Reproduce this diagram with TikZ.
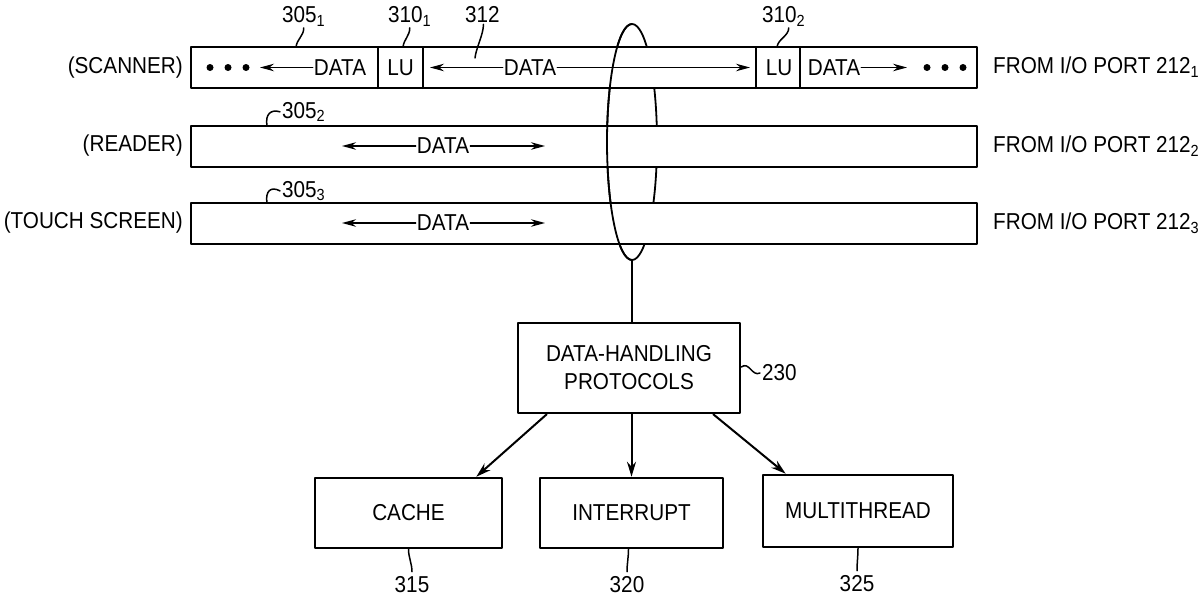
\documentclass[tikz,border=0pt]{standalone}
\usepackage{fontspec}
\setmainfont{Liberation Sans}[FakeStretch=0.9]
\usetikzlibrary{arrows.meta,calc}
\tikzset{
  bar/.style={line width=2pt, fill=white},
  box/.style={draw, line width=2.5pt, align=center, inner sep=2pt},
  arr/.style={line width=1.3pt, -{Stealth[length=14pt,width=7.5pt]}},
  flow/.style={line width=2pt, -{Stealth[length=15pt,width=9pt]}},
  lead/.style={line width=1.5pt},
  lbl/.style={inner sep=0pt}
}
\begin{document}
\begin{tikzpicture}[x=1pt,y=-1pt,line join=round,line cap=round,
  every node/.style={font=\fontsize{23}{28}\selectfont}]
	\useasboundingbox (0,0) rectangle (1199,597);
	% loop round the three ports
	\coordinate (loopc) at (632,142);
	\coordinate (loopbot) at (632,260);
	\draw[line width=1.8pt] (loopc) ellipse [x radius=25, y radius=118];
	% port bars
	\foreach \y in {47,126,203}
	\draw[bar] (191,\y) rectangle (977,\y+41);
	\foreach \x in {378,423,756,800}
	\draw[bar] (\x,47) -- (\x,88);
	\begin{scope}
		\clip (590,0) rectangle (632,300);
		\draw[line width=1.8pt] (loopc) ellipse [x radius=25, y radius=118];
	\end{scope}
	% row labels
	\foreach \y/\n/\t/\s in {67.5/scan/{(SCANNER)}/1,146/read/{(READER)}/2,223/touch/{(TOUCH SCREEN)}/3}{
		\node[anchor=east,inner sep=1pt] (\n-lbl) at (184,\y) {\t};
		\node[anchor=west,inner sep=1pt] (\n-port) at (992,\y) {FROM I/O PORT 212\textsubscript{\s}};
	}
	% scanner stream
	\foreach \x in {210,228,246,927,945,963}
	\fill (\x,67.5) circle[radius=3.5];
	\node[inner sep=1pt] (sd1) at (340,67.5) {DATA};
	\node[inner sep=1pt] (lu1) at (400.5,67.5) {LU};
	\node[inner sep=1pt] (sd2) at (530,67.5) {DATA};
	\node[inner sep=1pt] (lu2) at (779,67.5) {LU};
	\node[inner sep=1pt] (sd3) at (834,67.5) {DATA};
	\draw[arr] (sd1.west) -- (260,67.5);
	\draw[arr] (sd2.west) -- (430,67.5);
	\draw[arr] (sd2.east) -- (750,67.5);
	\draw[arr] (sd3.east) -- (907,67.5);
	% reader and touch screen streams
	\foreach \y/\n in {146/rd,223/td}{
		\node[inner sep=1pt] (\n) at (443,\y) {DATA};
		\draw[arr] (\n.west) -- (342,\y);
		\draw[arr] (\n.east) -- (545,\y);
	}
	% reference numerals
	\node[lbl,anchor=base west] (n3051) at (282,23) {305\textsubscript{1}};
	\node[lbl,anchor=base west] (n3101) at (388,23) {310\textsubscript{1}};
	\node[lbl,anchor=base west] (n312) at (465,23) {312};
	\node[lbl,anchor=base west] (n3102) at (762,23) {310\textsubscript{2}};
	\node[lbl,anchor=base west] (n3052) at (282,118) {305\textsubscript{2}};
	\node[lbl,anchor=base west] (n3053) at (282,197) {305\textsubscript{3}};
	\draw[lead] ([yshift=-1pt]n3051.south) .. controls +(0,8) and +(1,-8) .. (296,47);
	\draw[lead] ([yshift=-1pt]n3101.south) .. controls +(0,8) and +(1,-8) .. (403,47);
	\draw[lead] ([xshift=1pt,yshift=-1pt]n312.south) .. controls +(0,10) and +(1,-10) .. (475,58);
	\draw[lead] ([xshift=5pt,yshift=-1pt]n3102.south) .. controls +(0,8) and +(1,-8) .. (777,47);
	\draw[lead] (267,126) .. controls (265,114) and (271,109) .. ([xshift=-2pt]n3052.west);
	\draw[lead] (267,203) .. controls (265,191) and (271,186) .. ([xshift=-2pt]n3053.west);
	% protocol boxes
	\node[box,minimum width=222,minimum height=90] (dhp) at (629,368) {DATA-HANDLING\\PROTOCOLS};
	\node[box,minimum width=187,minimum height=70] (cache) at (408.5,513) {CACHE};
	\node[box,minimum width=183,minimum height=70] (intr) at (631.5,513) {INTERRUPT};
	\node[box,minimum width=190,minimum height=72] (mthr) at (858,511) {MULTITHREAD};
	\draw[line width=1.8pt] (loopbot) -- (dhp.north -| loopbot);
	\draw[flow] ([xshift=30pt]dhp.south west) -- ([xshift=-27pt]cache.north east);
	\draw[flow] (dhp.south -| intr.north) -- (intr.north);
	\draw[flow] ([xshift=-28pt]dhp.south east) -- ([xshift=24pt]mthr.north west);
	\node[lbl,anchor=west] (n230) at (762,373) {230};
	\node[lbl,anchor=base] (n315) at (412,592) {315};
	\node[lbl,anchor=base] (n320) at (627,592) {320};
	\node[lbl,anchor=base] (n325) at (857,591) {325};
	\draw[lead] ([yshift=1pt]dhp.east) .. controls +(8,-6) and +(-8,4) .. ([xshift=-2pt]n230.west);
	\draw[lead] (cache.south) .. controls +(0,8) and +(0,-8) .. ([yshift=4pt]n315.north);
	\draw[lead] ([xshift=-3pt]intr.south) .. controls +(0,8) and +(0,-8) .. ([yshift=4pt]n320.north);
	\draw[lead] (mthr.south) .. controls +(0,8) and +(0,-8) .. ([yshift=4pt]n325.north);
\end{tikzpicture}
\end{document}
